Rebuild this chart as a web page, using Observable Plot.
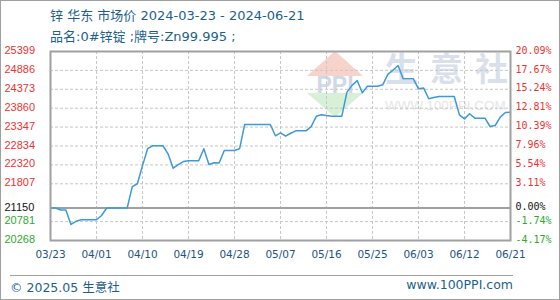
<!DOCTYPE html>
<html><head><meta charset="utf-8">
<script src="https://cdn.jsdelivr.net/npm/d3@7"></script>
<script src="https://cdn.jsdelivr.net/npm/@observablehq/plot@0.6"></script>
<style>
html,body{margin:0;padding:0;background:#fff;}
#wrap{position:relative;width:560px;height:300px;overflow:hidden;font-family:"DejaVu Sans","Noto Sans CJK SC",sans-serif;}
#border{position:absolute;left:0;top:0;width:558px;height:298px;border:1px solid #a0a0a0;pointer-events:none;}
.t{position:absolute;white-space:nowrap;color:#1d5f8c;}
.w{position:absolute;white-space:nowrap;font-family:'Noto Sans CJK SC';font-weight:bold;font-size:33px;line-height:40px;color:#dae0eb;top:47px;}
#wm{position:absolute;left:0;top:0;width:560px;height:300px;}
#chart{position:absolute;left:0;top:0;}
#sep{position:absolute;left:10px;top:275px;width:503px;height:0;border-top:1px solid #a0a0a0;}
</style></head>
<body><div id="wrap">
<div id="wm">
  <svg width="560" height="300" style="position:absolute;left:0;top:0">
    <polygon points="335,51 307,76 363,76" fill="#f7d3cc"/>
    <polygon points="307,93 363,93 335,117" fill="#d8efd8"/>
    <text x="335" y="93" text-anchor="middle" font-family="Liberation Sans" font-weight="bold" font-size="23" fill="#cfd8e8">PPI</text>
  </svg>
  <div class="w" style="left:385px;">生</div>
  <div class="w" style="left:430px;">意</div>
  <div class="w" style="left:475px;">社</div>
  <div class="t" style="left:385px;top:98px;font-family:'Liberation Sans';font-size:13.5px;color:#e6e6e6;">WWW.100PPI.COM</div>
</div>
<div id="chart"></div>
<div class="t" style="left:50px;top:5px;font-size:13px;">锌 华东 市场价 2024-03-23 - 2024-06-21</div>
<div class="t" style="left:50px;top:26px;font-size:13px;">品名:0#锌锭 ;牌号:Zn99.995 ;</div>
<div id="sep"></div>
<div class="t" style="left:10px;top:277px;font-size:12.5px;">© 2025.05 生意社</div>
<div class="t" style="right:47px;top:277px;font-size:12.5px;">www.100PPI.com</div>
<div id="border"></div>
</div>
<script>
const dates = [
"2024-03-23","2024-03-24","2024-03-25","2024-03-26","2024-03-27","2024-03-28","2024-03-29","2024-03-30","2024-03-31",
"2024-04-01","2024-04-02","2024-04-03","2024-04-04","2024-04-05","2024-04-06","2024-04-07","2024-04-08","2024-04-09","2024-04-10",
"2024-04-11","2024-04-12","2024-04-13","2024-04-14","2024-04-15","2024-04-16","2024-04-17","2024-04-18","2024-04-19","2024-04-20",
"2024-04-21","2024-04-22","2024-04-23","2024-04-24","2024-04-25","2024-04-26","2024-04-27","2024-04-28","2024-04-29","2024-04-30",
"2024-05-01","2024-05-02","2024-05-03","2024-05-04","2024-05-05","2024-05-06","2024-05-07","2024-05-08","2024-05-09","2024-05-10",
"2024-05-11","2024-05-12","2024-05-13","2024-05-14","2024-05-15","2024-05-16","2024-05-17","2024-05-18","2024-05-19","2024-05-20",
"2024-05-21","2024-05-22","2024-05-23","2024-05-24","2024-05-25","2024-05-26","2024-05-27","2024-05-28","2024-05-29","2024-05-30",
"2024-05-31","2024-06-01","2024-06-02","2024-06-03","2024-06-04","2024-06-05","2024-06-06","2024-06-07","2024-06-08","2024-06-09",
"2024-06-10","2024-06-11","2024-06-12","2024-06-13","2024-06-14","2024-06-15","2024-06-16","2024-06-17","2024-06-18","2024-06-19",
"2024-06-20","2024-06-21"];
const prices = [
21150,21150,21097,21097,20703,20790,20831,20831,20831,
20831,20947,21150,21150,21150,21150,21150,21730,21808,22300,
22760,22840,22840,22840,22620,22231,22330,22410,22432,22432,
22432,22760,22332,22380,22370,22710,22710,22710,22760,23418,
23418,23418,23418,23418,23418,23110,23190,23099,23180,23246,
23246,23246,23360,23640,23681,23660,23644,23644,23644,24295,
24480,24612,24278,24457,24457,24457,24495,24780,24890,25019,
24658,24658,24658,24386,24410,24115,24150,24177,24177,24177,
24177,23680,23570,23708,23590,23590,23590,23363,23390,23617,
23743,23752];
const basePrice = 21150;
const yTicks = [25399,24886,24373,23860,23347,22834,22320,21807,21150,20781,20268];
const pctLabels = ["20.09%","17.67%","15.24%","12.81%","10.39%","7.96%","5.54%","3.11%","0.00%","-1.74%","-4.17%"];
const xTickDates = ["2024-03-23","2024-04-01","2024-04-10","2024-04-19","2024-04-28","2024-05-07","2024-05-16","2024-05-25","2024-06-03","2024-06-12","2024-06-21"];
const xTickLabels = ["03/23","04/01","04/10","04/19","04/28","05/07","05/16","05/25","06/03","06/12","06/21"];

const parse = d3.utcParse("%Y-%m-%d");
const data = dates.map((d,i)=>({date:parse(d), price:prices[i]}));
const ticks = yTicks.map((v,i)=>({v, pct:pctLabels[i], side: v>basePrice?"up":(v<basePrice?"down":"base")}));
const xt = xTickDates.map((d,i)=>({date:parse(d), label:xTickLabels[i]}));
const col = {up:"#f03232", base:"#111111", down:"#2fa82f"};

const leftLabels = ["up","base","down"].map(s => Plot.text(ticks.filter(t=>t.side===s), {
  y:"v", text:d=>String(d.v), frameAnchor:"left", textAnchor:"start", dx:-46, dy:-1,
  fill:col[s], fontSize:11, fontFamily:"Liberation Sans"}));
const rightLabels = ["up","base","down"].map(s => Plot.text(ticks.filter(t=>t.side===s), {
  y:"v", text:"pct", frameAnchor:"right", textAnchor:"start", dx:5, dy:-1,
  fill:col[s], fontSize:10, fontFamily:"DejaVu Sans Mono"}));

const chart = Plot.plot({
  width:560, height:300,
  marginTop:51, marginBottom:60, marginLeft:50, marginRight:50,
  style:{background:"transparent", overflow:"visible"},
  x:{type:"utc", domain:[parse(dates[0]), parse(dates[dates.length-1])], axis:null},
  y:{domain:[20268,25399], axis:null},
  marks:[
    Plot.ruleY(yTicks.filter(v=>v!==basePrice && v!==20268), {stroke:"#c6c6c6", strokeDasharray:"3,2", strokeWidth:1}),
    Plot.ruleX(xt.slice(1,-1), {x:"date", stroke:"#c6c6c6", strokeDasharray:"3,2", strokeWidth:1}),
    Plot.ruleY([basePrice], {stroke:"#a0a0a0", strokeWidth:2}),
    Plot.line(data, {x:"date", y:"price", stroke:"#3d9ad8", strokeWidth:1.5}),
    Plot.frame({stroke:"#a0a0a0", strokeWidth:2}),
    ...leftLabels,
    ...rightLabels,
    Plot.text(xt, {x:"date", text:"label", frameAnchor:"bottom", dy:17, fill:"#1d5482", fontSize:10.5, fontFamily:"DejaVu Sans"})
  ]
});
document.getElementById("chart").appendChild(chart);
</script>
</body></html>
